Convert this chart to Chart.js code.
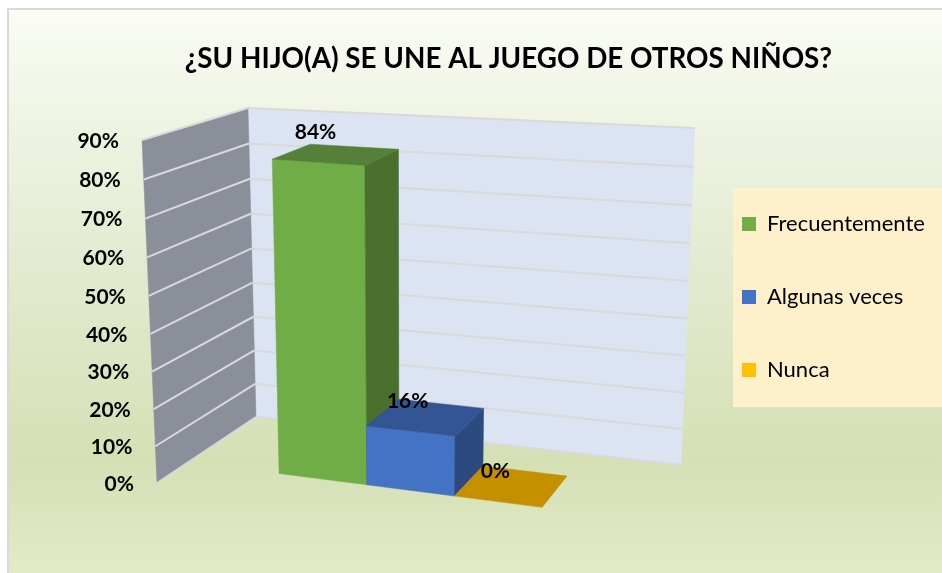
<!DOCTYPE html>
<html>
<head>
<meta charset="utf-8">
<title>Chart</title>
<script src="https://cdn.jsdelivr.net/npm/chart.js@4"></script>
<style>
  body { margin: 0; background: #fff; }
  canvas { display: block; }
</style>
</head>
<body>
<canvas id="chart" width="942" height="573"></canvas>
<script>
const chartTitle = "¿SU HIJO(A) SE UNE AL JUEGO DE OTROS NIÑOS?";
const seriesNames = ["Frecuentemente", "Algunas veces", "Nunca"];
const seriesValues = [84, 16, 0];
const yMax = 90;
const yStep = 10;

// color of each bar: front, side, top
const frontColors = ["#70ad47", "#4472c4", "#ffc000"];
const sideColors = ["#4b6f2d", "#2c4a80", "#a67c00"];
const topColors = ["#56803a", "#335593", "#c49000"];

// corners of the 3d box on screen
const FLB = [157, 483], FRB = [630, 547], BLB = [256, 417], BRB = [681, 465];
const FLT = [142, 140], FRT = [645, 176], BLT = [248, 108], BRT = [695, 128];
const barFront = 0.32;
const barBack = 0.72;
const barShift = -0.015;

function mix(a, b, t) {
  return [a[0] + (b[0] - a[0]) * t, a[1] + (b[1] - a[1]) * t];
}

// u = left to right, v = bottom to top, w = front to back (all 0..1)
function project(u, v, w) {
  const vv = 0.96 * v + 0.04 * v * v; // the top of the box looks a bit taller
  const bottom = mix(mix(FLB, FRB, u), mix(BLB, BRB, u), w);
  const top = mix(mix(FLT, FRT, u), mix(BLT, BRT, u), w);
  return mix(bottom, top, vv);
}

function face(ctx, pts, fill, stroke, lineWidth) {
  ctx.beginPath();
  pts.forEach((p, i) => (i ? ctx.lineTo(p[0], p[1]) : ctx.moveTo(p[0], p[1])));
  ctx.closePath();
  ctx.fillStyle = fill;
  ctx.fill();
  ctx.strokeStyle = stroke || fill;
  ctx.lineWidth = lineWidth || 0.5;
  ctx.stroke();
}

function line(ctx, a, b, color, width) {
  ctx.beginPath();
  ctx.moveTo(a[0], a[1]);
  ctx.lineTo(b[0], b[1]);
  ctx.strokeStyle = color;
  ctx.lineWidth = width;
  ctx.stroke();
}

const bar3d = {
  id: "bar3d",
  beforeDraw(chart) {
    const ctx = chart.ctx;
    // fondo
    const bg = ctx.createLinearGradient(0, 10, 0, 573);
    bg.addColorStop(0, "#fafcf6");
    bg.addColorStop(0.17, "#f0f5e5");
    bg.addColorStop(0.45, "#e2ebd0");
    bg.addColorStop(0.8, "#d5e0b5");
    bg.addColorStop(1, "#e2eac8");
    ctx.fillStyle = "#ffffff";
    ctx.fillRect(0, 0, 942, 573);
    ctx.fillStyle = bg;
    ctx.fillRect(8, 9, 934, 564);
    ctx.strokeStyle = "#d9d9d9";
    ctx.lineWidth = 2;
    ctx.strokeRect(8, 9, 940, 570);
    // caja de la leyenda
    ctx.fillStyle = "#fff0cc";
    ctx.fillRect(733, 188, 209, 219);
  },
  afterLayout(chart) {
    // title is centered over the plot, not the page
    chart.titleBlock.left -= 17.5;
    chart.titleBlock.right -= 17.5;
    const lg = chart.legend;
    const h = lg.height;
    lg.left = 691;
    lg.right = 942;
    lg.width = lg.right - lg.left;
    lg.top = 162;
    lg.bottom = lg.top + h;
  },
  beforeDatasetsDraw(chart) {
    const ctx = chart.ctx;
    const area = chart.chartArea;
    const yScale = chart.scales.y;
    const toV = (px) => (area.bottom - px) / area.height;

    // walls
    face(ctx, [BLB, BLT, BRT, BRB], "#dce3f3", "#dce3f3");
    face(ctx, [FLB, FLT, BLT, BLB], "#8a8f99", "#8a8f99");
    yScale.ticks.forEach((tick) => {
      const v = toV(yScale.getPixelForValue(tick.value));
      line(ctx, project(0, v, 0), project(0, v, 1), "#d9d9d9", 2);
      line(ctx, project(0, v, 1), project(1, v, 1), "#d9d9d9", 2);
      // tick labels follow the slant of the wall
      const p = project(0, v, 0);
      ctx.fillStyle = "#000000";
      ctx.font = "bold 21px Lato";
      ctx.textAlign = "right";
      ctx.textBaseline = "middle";
      ctx.fillText(tick.label, p[0] - 23, p[1] + 1);
    });

    // bars
    chart.data.datasets.forEach((ds, i) => {
      const el = chart.getDatasetMeta(i).data[0];
      const u0 = (el.x - el.width / 2 - area.left) / area.width + barShift;
      const u1 = (el.x + el.width / 2 - area.left) / area.width + barShift;
      const v = toV(el.y);
      const a = project(u0, v, barFront), b = project(u1, v, barFront);
      const c = project(u1, v, barBack), d = project(u0, v, barBack);
      const a0 = project(u0, 0, barFront), b0 = project(u1, 0, barFront);
      const c0 = project(u1, 0, barBack);
      if (v > 0) {
        face(ctx, [a0, a, b, b0], frontColors[i]);
        face(ctx, [b0, b, c, c0], sideColors[i]);
      }
      face(ctx, [a, b, c, d], topColors[i]);
    });

    // value labels on top of everything
    chart.data.datasets.forEach((ds, i) => {
      const el = chart.getDatasetMeta(i).data[0];
      const u = (el.x - area.left) / area.width + barShift;
      const p = project(u, toV(el.y), barFront);
      ctx.fillStyle = "#000000";
      ctx.font = "bold 21px Lato";
      ctx.textAlign = "center";
      ctx.textBaseline = "middle";
      ctx.fillText(ds.data[0] + "%", p[0] - 3, p[1] - 30);
    });
    return false; // the boxes above replace the flat bars
  },
};

new Chart(document.getElementById("chart"), {
  type: "bar",
  data: {
    labels: [""],
    datasets: seriesNames.map((name, i) => ({
      label: name,
      data: [seriesValues[i]],
      backgroundColor: frontColors[i],
    })),
  },
  options: {
    responsive: false,
    animation: false,
    categoryPercentage: 0.575,
    barPercentage: 1,
    layout: { padding: { left: 130, right: 20, top: 0, bottom: 90 } },
    scales: {
      x: { display: false },
      y: {
        min: 0,
        max: yMax,
        ticks: { display: false, stepSize: yStep, callback: (v) => v + "%" },
        grid: { display: false },
        border: { display: false },
      },
    },
    plugins: {
      tooltip: { enabled: false },
      title: {
        display: true,
        text: chartTitle,
        color: "#000000",
        font: { family: "Lato", size: 27.8, weight: "bold" },
        padding: { top: 42, bottom: 40 },
      },
      legend: {
        position: "right",
        align: "start",
        labels: {
          color: "#000000",
          font: { family: "Lato", size: 22 },
          boxWidth: 14,
          boxHeight: 14,
          padding: 51,
        },
      },
    },
  },
  plugins: [bar3d],
});
</script>
</body>
</html>
